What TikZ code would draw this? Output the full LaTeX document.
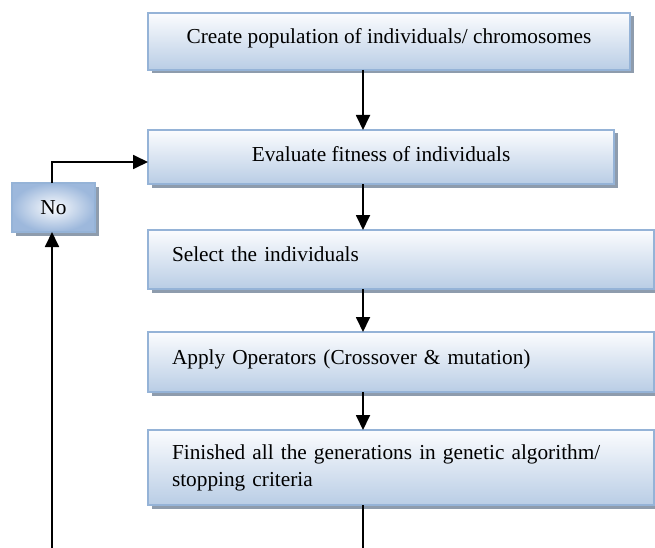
\documentclass[tikz,border=0pt]{standalone}
\usepackage{fontspec}
\setmainfont{Liberation Serif}
\usetikzlibrary{arrows.meta,shadows,calc}
\definecolor{boxedge}{HTML}{95B3D7}
\definecolor{boxtop}{HTML}{FBFCFE}
\definecolor{boxbot}{HTML}{B9CDE5}
\definecolor{shadowc}{HTML}{8E9CAD}
\definecolor{noblue}{HTML}{9DB8DC}
\begin{document}
\begin{tikzpicture}[x=1pt,y=-1pt,
  font=\fontsize{21.3}{27}\selectfont,
  flowbox/.style={draw=boxedge, line width=1.4pt, top color=boxtop, bottom color=boxbot,
    drop shadow={shadow xshift=3.5pt, shadow yshift=-3.5pt, fill=shadowc, opacity=1},
    inner sep=0pt, outer sep=0pt},
  nobox/.style={draw=boxedge, line width=1.4pt, inner color=white!95!noblue, outer color=noblue,
    drop shadow={shadow xshift=3.5pt, shadow yshift=-3.5pt, fill=shadowc, opacity=1},
    inner sep=0pt, outer sep=0pt},
  conn/.style={line width=1.8pt, draw=black},
  arr/.style={conn, -{Triangle[length=15pt,width=14pt]}}
]
\useasboundingbox (0,0) rectangle (655,548);

\node[flowbox, minimum width=482pt, minimum height=57pt, text height=10pt, text depth=6pt] (b1) at (389,41.5) {Create population of individuals/ chromosomes};
\node[flowbox, minimum width=466pt, minimum height=54pt, text height=15pt, text depth=6pt] (b2) at (381,157) {Evaluate fitness of individuals};
\node[flowbox, minimum width=506pt, minimum height=59pt, text width=458pt, align=left, text height=9pt, text depth=6pt] (b3) at (401,259.5) {Select the individuals};
\node[flowbox, minimum width=506pt, minimum height=60pt, text width=458pt, align=left, text height=10pt, text depth=6pt] (b4) at (401,362) {Apply Operators (Crossover \& mutation)};
\node[flowbox, minimum width=506pt, minimum height=75pt, text width=458pt, align=left] (b5) at (401,467.5) {\makebox[458pt][s]{Finished all the generations in genetic algorithm/}\\stopping criteria};
\node[nobox, minimum width=83pt, minimum height=49pt] (no) at (53.5,207.5) {No};

\coordinate (ax) at (363,0);
\coordinate (bottommid) at (363,548);
\coordinate (bottomleft) at (52,548);

\draw[arr] (b1.south -| ax) -- (b2.north -| ax);
\draw[arr] (b2.south -| ax) -- (b3.north -| ax);
\draw[arr] (b3.south -| ax) -- (b4.north -| ax);
\draw[arr] (b4.south -| ax) -- (b5.north -| ax);
\draw[conn] (b5.south -| ax) -- (bottommid);
\draw[arr] (bottomleft) -- (no.south -| bottomleft);
\draw[arr] (no.north -| bottomleft) |- ([yshift=-5pt]b2.west);
\end{tikzpicture}
\end{document}
